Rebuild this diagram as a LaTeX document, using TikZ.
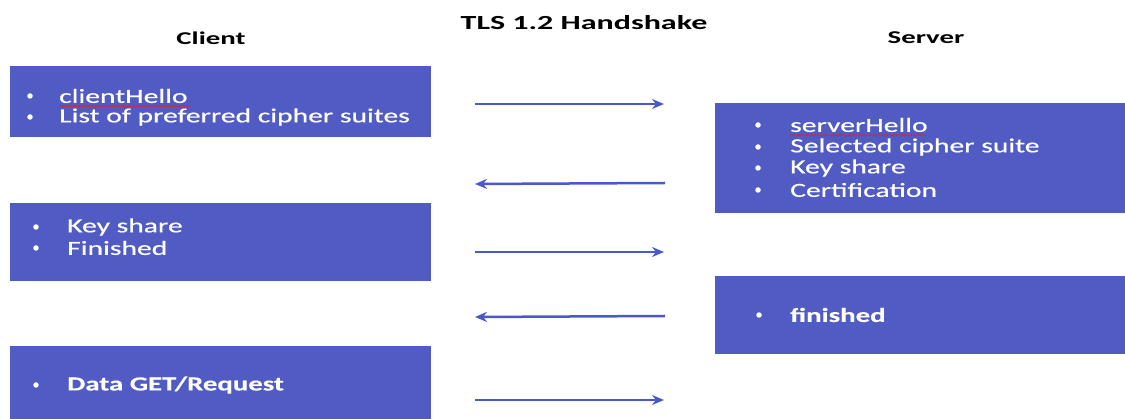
\documentclass[tikz,border=0pt]{standalone}
\usepackage{fontspec}
\setmainfont{Carlito}
\newfontfamily\bodyfont[FakeStretch=1.48,FakeBold=0.6]{Carlito}
\newfontfamily\boldbodyfont[FakeStretch=1.44,FakeBold=0.3]{Carlito}
\newfontfamily\headfont[FakeStretch=1.6]{Carlito}
\usetikzlibrary{arrows.meta,decorations.pathmorphing}
\definecolor{boxblue}{RGB}{80,91,196}
\definecolor{arrowblue}{RGB}{74,88,200}
\definecolor{spellred}{RGB}{210,40,60}
\tikzset{
  msgbox/.style={fill=boxblue, draw=none, anchor=north west, inner sep=0pt},
  item/.style={anchor=west, inner sep=0pt, text=white, font=\bodyfont\fontsize{20}{22}\selectfont},
  bitem/.style={item, font=\boldbodyfont\bfseries\fontsize{20}{22}\selectfont},
  dot/.style={circle, fill=white, inner sep=0pt, minimum size=5.5pt},
  head/.style={inner sep=0pt, font=\headfont\bfseries\fontsize{18}{20}\selectfont},
  msg/.style={draw=arrowblue, line width=2.5pt, -{Stealth[length=12pt,width=10pt]}},
  squiggle/.style={draw=spellred, line width=0.8pt, decorate, decoration={snake, amplitude=0.7pt, segment length=3pt}}
}
\begin{document}
\begin{tikzpicture}[x=1pt,y=-1pt]
\useasboundingbox (0,0) rectangle (1125,419);
% titles
\node[head, font=\headfont\bfseries\fontsize{20}{22}\selectfont] (title) at (584,23) {TLS 1.2 Handshake};
\node[head] (client) at (211,38) {Client};
\node[head] (server) at (926,38) {Server};
% client boxes
\node[msgbox, minimum width=421pt, minimum height=71pt] (c1) at (10,66) {};
\node[msgbox, minimum width=421pt, minimum height=78pt] (c2) at (10,203) {};
\node[msgbox, minimum width=421pt, minimum height=73pt] (c3) at (10,346) {};
% server boxes
\node[msgbox, minimum width=410pt, minimum height=110pt] (s1) at (715,103) {};
\node[msgbox, minimum width=410pt, minimum height=78pt] (s2) at (715,276) {};
% client box 1 text
\node[dot] (c1b1) at (30,96) {};
\node[item] (c1t1) at (59,96) {clientHello};
\node[dot] (c1b2) at (30,117) {};
\node[item] (c1t2) at (59,117) {List of preferred cipher suites};
\draw[squiggle] (c1t1.south west) ++(0,3) -- ++(131,0);
% client box 2 text
\node[dot] (c2b1) at (36,227) {};
\node[item] (c2t1) at (67,227) {Key share};
\node[dot] (c2b2) at (36,248) {};
\node[item] (c2t2) at (67,248) {Finished};
% client box 3 text
\node[dot] (c3b1) at (36,385) {};
\node[bitem] (c3t1) at (67,385) {Data GET/Request};
% server box 1 text
\node[dot] (s1b1) at (758,125) {};
\node[item] (s1t1) at (790,125) {serverHello};
\node[dot] (s1b2) at (758,147) {};
\node[item] (s1t2) at (790,147) {Selected cipher suite};
\node[dot] (s1b3) at (758,168) {};
\node[item] (s1t3) at (790,168) {Key share};
\node[dot] (s1b4) at (758,190) {};
\node[item] (s1t4) at (790,190) {Certification};
\draw[squiggle] (s1t1.south west) ++(0,3) -- ++(136,0);
% server box 2 text
\node[dot] (s2b1) at (759,315) {};
\node[bitem] (s2t1) at (790,315) {finished};
% arrows
\coordinate (a1l) at (475,104); \coordinate (a1r) at (664,104);
\coordinate (a2l) at (475,184); \coordinate (a2r) at (665,183);
\coordinate (a3l) at (475,252); \coordinate (a3r) at (664,252);
\coordinate (a4l) at (475,317); \coordinate (a4r) at (665,316);
\coordinate (a5l) at (475,400); \coordinate (a5r) at (664,400);
\draw[msg] (a1l) -- (a1r);
\draw[msg] (a2r) -- (a2l);
\draw[msg] (a3l) -- (a3r);
\draw[msg] (a4r) -- (a4l);
\draw[msg] (a5l) -- (a5r);
\end{tikzpicture}
\end{document}
